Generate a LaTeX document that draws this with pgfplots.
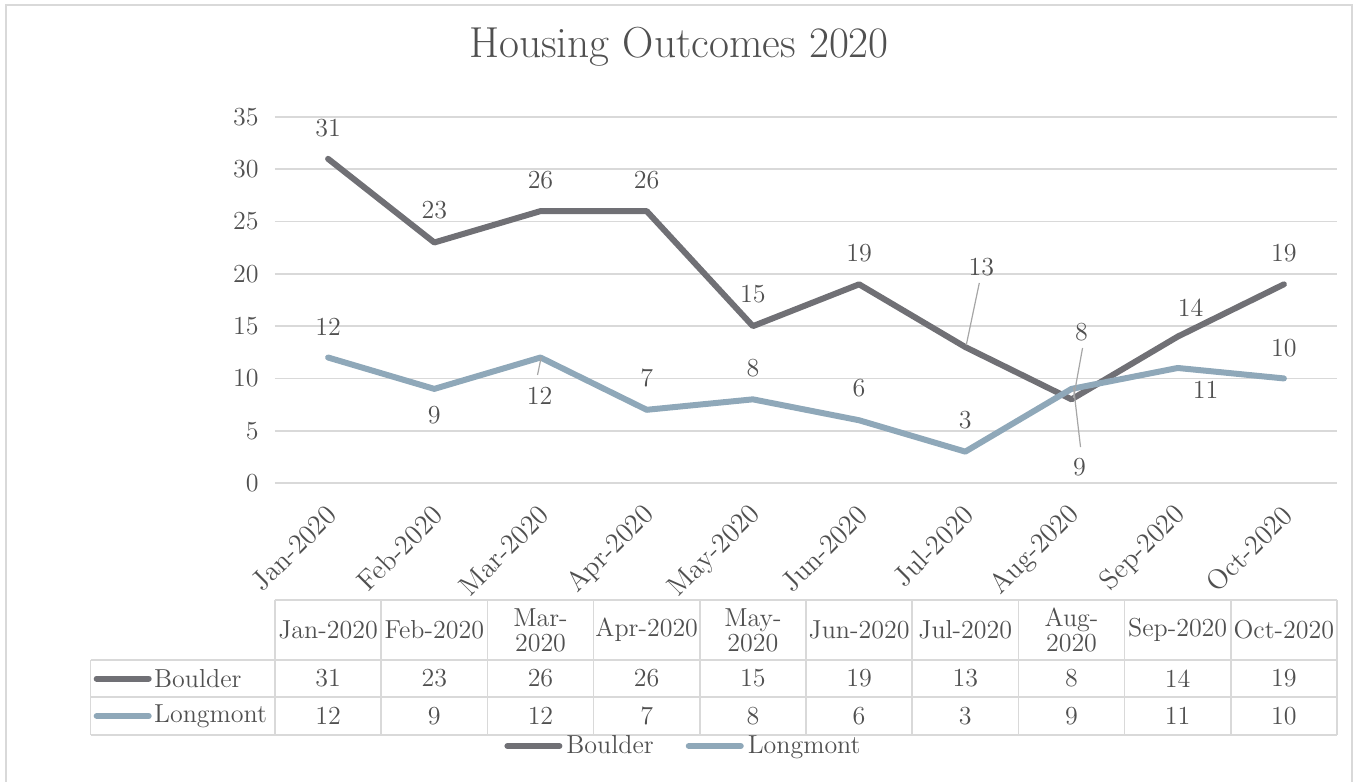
\documentclass[border=0pt]{standalone}
\usepackage{fontspec}
\usepackage{pgfplots}
\pgfplotsset{compat=1.18}
\usepackage{pgfplotstable}
\definecolor{boulder}{RGB}{112,112,117}
\definecolor{longmont}{RGB}{143,168,185}
\definecolor{gridgray}{RGB}{217,217,217}
\definecolor{txt}{RGB}{80,80,80}
\definecolor{leader}{RGB}{166,166,166}
\newcommand{\tabfont}{\fontsize{13}{12.5}\selectfont}

\pgfplotstableread{
x b  l  bdx bdy  ldx ldy
0 31 12 0   15.5 0   15.5
1 23 9  0   16   0   -13
2 26 12 0   15.5 -0.5 -19
3 26 7  0   15.5 0   16
4 15 8  0   16   0   15.5
5 19 6  0   15.5 0   16
6 13 3  8   40   0   16
7 8  9  5   33.5 4   -39
8 14 11 6.5 14.5 14  -11
9 19 10 0   15.5 0   15
}\data

\begin{document}
\begin{tikzpicture}
\path[use as bounding box] (-137.5pt,-149.5pt) rectangle (541pt,241.5pt);
\draw[gridgray, line width=0.75pt] (-134.5pt,-152pt) -- (-134.5pt,239pt) -- (538.5pt,239pt) -- (538.5pt,-152pt);
\begin{axis}[
  at={(0pt,0pt)}, anchor=south west,
  scale only axis, width=531pt, height=183pt,
  xmin=-0.5, xmax=9.5, ymin=0, ymax=35,
  clip=false,
  axis line style={draw=none},
  major tick style={draw=none},
  ytick={0,5,...,35},
  ymajorgrids,
  grid style={gridgray, line width=0.8pt},
  xtick={0,...,9},
  xticklabels={Jan-2020,Feb-2020,Mar-2020,Apr-2020,May-2020,Jun-2020,Jul-2020,Aug-2020,Sep-2020,Oct-2020},
  /pgf/number format/assume math mode=true,
  ticklabel style={font=\tabfont, text=txt},
  yticklabel style={xshift=-4.7pt},
  xticklabel style={rotate=45, anchor=east, xshift=-5pt, yshift=-11pt, font=\fontsize{14}{16}\selectfont},
  legend style={at={(axis description cs:0.3856,-0.7186)}, anchor=center, draw=none, fill=none,
    legend columns=2, font=\tabfont, text=txt, inner sep=0pt,
    /tikz/every even column/.append style={column sep=14pt}},
  legend image code/.code={\draw[#1, line cap=round] (0pt,0pt) -- (26pt,0pt);},
]
\addplot[boulder, line width=3pt, line join=round, line cap=round] table[x=x, y=b] {\data};
\addplot[longmont, line width=3pt, line join=round, line cap=round] table[x=x, y=l] {\data};
\legend{Boulder,Longmont}

% title
\node[font=\fontsize{21.7}{26}\selectfont, text=txt, anchor=center] at (axis description cs:0.3804,1.191) {Housing Outcomes 2020};

% data labels
\addplot[draw=none, mark=none, forget plot, nodes near coords, point meta=explicit symbolic,
  visualization depends on={\thisrow{bdx} \as \dx},
  visualization depends on={\thisrow{bdy} \as \dy},
  nodes near coords style={anchor=center, xshift=\dx pt, yshift=\dy pt, font=\tabfont, text=txt}]
  table[x=x, y=b, meta=b] {\data};
\addplot[draw=none, mark=none, forget plot, nodes near coords, point meta=explicit symbolic,
  visualization depends on={\thisrow{ldx} \as \dx},
  visualization depends on={\thisrow{ldy} \as \dy},
  nodes near coords style={anchor=center, xshift=\dx pt, yshift=\dy pt, font=\tabfont, text=txt}]
  table[x=x, y=l, meta=l] {\data};

% leader lines
\draw[leader, line width=0.6pt] (axis cs:6.132,19.13) -- (axis cs:6.009,13.19);
\draw[leader, line width=0.6pt] (axis cs:7.104,12.91) -- (axis cs:7.019,8.13);
\draw[leader, line width=0.6pt] (axis cs:7.019,9.18) -- (axis cs:7.085,3.44);
\draw[leader, line width=0.6pt] (axis cs:2.007,12.05) -- (axis cs:1.972,10.33);

% data table grid
\draw[gridgray, line width=0.8pt] (axis cs:-0.5,-11.19) -- (axis cs:9.5,-11.19);
\draw[gridgray, line width=0.8pt] (axis cs:-2.236,-16.93) -- (axis cs:9.5,-16.93);
\draw[gridgray, line width=0.8pt] (axis cs:-2.236,-20.46) -- (axis cs:9.5,-20.46);
\draw[gridgray, line width=0.8pt] (axis cs:-2.236,-24.10) -- (axis cs:9.5,-24.10);
\draw[gridgray, line width=0.8pt] (axis cs:-2.236,-16.93) -- (axis cs:-2.236,-24.10);
\pgfplotsinvokeforeach{-0.5,0.5,1.5,2.5,3.5,4.5,5.5,6.5,7.5,8.5,9.5}{
  \draw[gridgray, line width=0.8pt] (axis cs:#1,-11.19) -- (axis cs:#1,-24.10);
}

% header
\node[font=\tabfont, text=txt, align=center] at (axis cs:0,-14.06) {Jan-2020};
\node[font=\tabfont, text=txt, align=center] at (axis cs:1,-14.06) {Feb-2020};
\node[font=\tabfont, text=txt, align=center] at (axis cs:2,-14.06) {Mar-\\2020};
\node[font=\tabfont, text=txt, align=center] at (axis cs:3,-14.06) {Apr-2020};
\node[font=\tabfont, text=txt, align=center] at (axis cs:4,-14.06) {May-\\2020};
\node[font=\tabfont, text=txt, align=center] at (axis cs:5,-14.06) {Jun-2020};
\node[font=\tabfont, text=txt, align=center] at (axis cs:6,-14.06) {Jul-2020};
\node[font=\tabfont, text=txt, align=center] at (axis cs:7,-14.06) {Aug-\\2020};
\node[font=\tabfont, text=txt, align=center] at (axis cs:8,-14.06) {Sep-2020};
\node[font=\tabfont, text=txt, align=center] at (axis cs:9,-14.06) {Oct-2020};

% row labels
\draw[boulder, line width=3pt, line cap=round] (axis cs:-2.179,-18.70) -- (axis cs:-1.689,-18.70);
\node[anchor=west, inner sep=0pt, font=\tabfont, text=txt] at (axis cs:-1.6415,-18.70) {Boulder};
\draw[longmont, line width=3pt, line cap=round] (axis cs:-2.179,-22.28) -- (axis cs:-1.689,-22.28);
\node[anchor=west, inner sep=0pt, font=\tabfont, text=txt] at (axis cs:-1.6415,-22.28) {Longmont};

% table values
\addplot[draw=none, mark=none, forget plot, nodes near coords, point meta=explicit symbolic,
  nodes near coords style={anchor=center, font=\tabfont, text=txt}]
  table[x=x, y expr=-18.70, meta=b] {\data};
\addplot[draw=none, mark=none, forget plot, nodes near coords, point meta=explicit symbolic,
  nodes near coords style={anchor=center, font=\tabfont, text=txt}]
  table[x=x, y expr=-22.28, meta=l] {\data};
\end{axis}
\end{tikzpicture}
\end{document}
